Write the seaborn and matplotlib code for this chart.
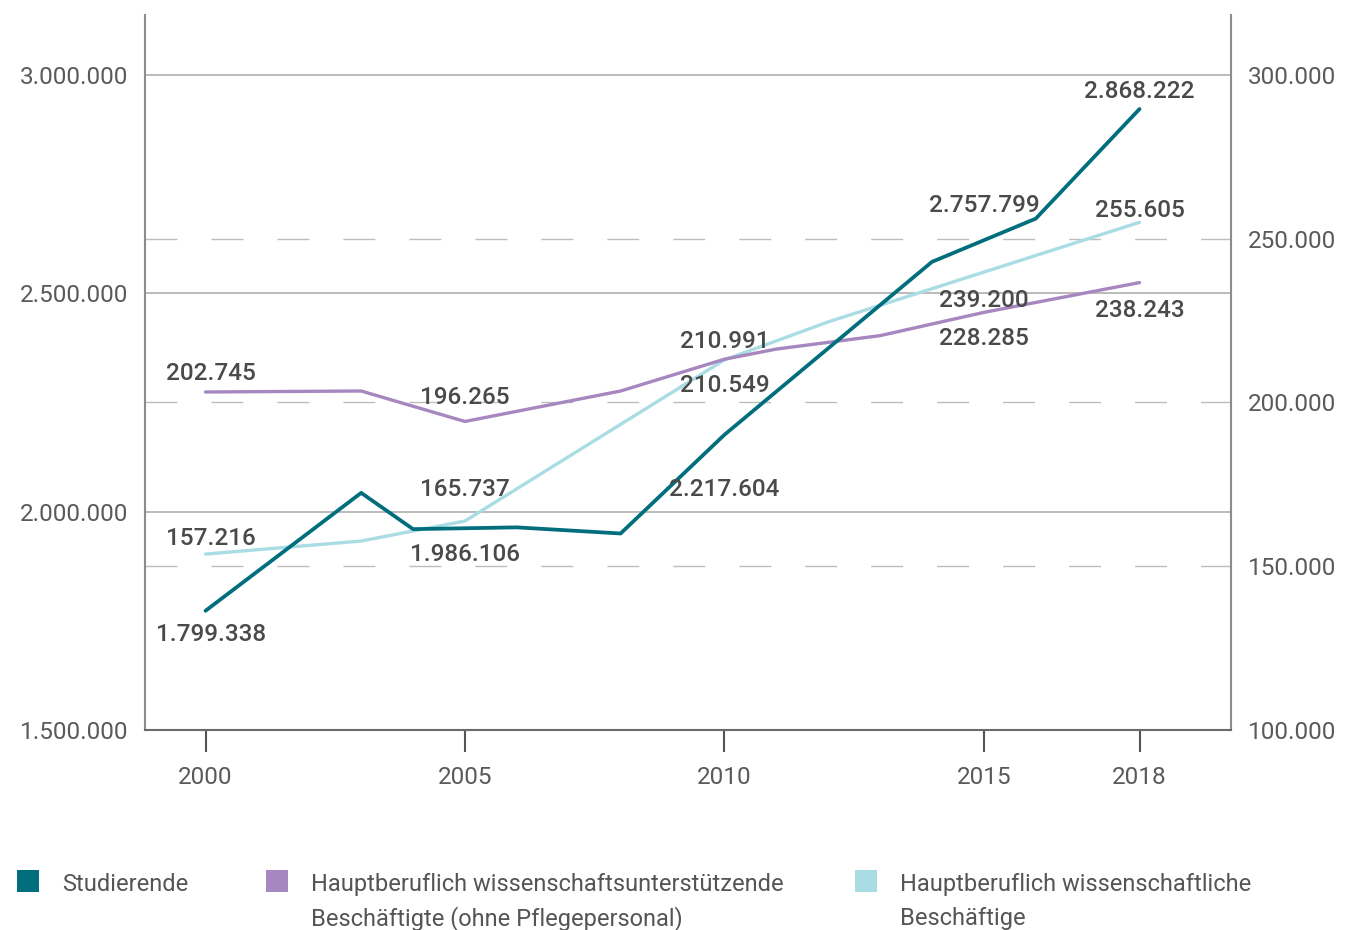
import matplotlib
matplotlib.use("Agg")
import matplotlib.pyplot as plt
import seaborn as sns
import pandas as pd
from matplotlib.patches import Rectangle
from matplotlib.ticker import FuncFormatter

# ---------------- data ----------------
stud_years = [2000, 2003, 2004, 2006, 2008, 2010, 2014, 2016, 2018]
stud_values = [1773000, 2043000, 1960000, 1964000, 1950000, 2176000, 2572000, 2671000, 2922000]

wu_years = [2000, 2003, 2005, 2008, 2010, 2011, 2013, 2015, 2018]
wu_values = [203200, 203500, 194200, 203500, 213200, 216300, 220400, 227500, 236600]

wiss_years = [2000, 2003, 2005, 2010, 2012, 2018]
wiss_values = [153700, 157700, 163800, 213000, 224600, 255000]

x_ticks = [2000, 2005, 2010, 2015, 2018]
left_ticks = [1500000, 2000000, 2500000, 3000000]
right_ticks = [100000, 150000, 200000, 250000, 300000]

legend_names = ["Studierende",
                "Hauptberuflich wissenschaftsunterstützende\nBeschäftigte (ohne Pflegepersonal)",
                "Hauptberuflich wissenschaftliche\nBeschäftige"]

stud_labels = [("1.799.338", 2000.1, 1702700), ("1.986.106", 2005, 1888100),
               ("2.217.604", 2010, 2034700), ("2.757.799", 2015, 2687000),
               ("2.868.222", 2018, 2948000)]
right_labels = [("202.745", 2000.1, 207000), ("157.216", 2000.1, 156600),
                ("196.265", 2005, 199450), ("165.737", 2005, 171300),
                ("210.991", 2010, 216500), ("210.549", 2010, 203050),
                ("239.200", 2015, 229300), ("228.285", 2015, 217400),
                ("255.605", 2018, 256500), ("238.243", 2018, 225950)]

# ---------------- style ----------------
C_STUD = "#006E7D"
C_WU = "#A687C0"
C_WISS = "#A9DDE3"
TXT = "#4a4a4a"
TICK = "#5a5a5a"

sns.set_theme(style="white")
plt.rcParams["font.family"] = ["Roboto", "DejaVu Sans"]
plt.rcParams["lines.scale_dashes"] = False

fig = plt.figure(figsize=(13.45, 9.3), dpi=100)
W, H = 1345, 930
ax = fig.add_axes([145 / W, (H - 730) / H, (1231 - 145) / W, (730 - 15) / H])
ax2 = ax.twinx()
ax.set_zorder(3)
ax2.set_zorder(2)
ax.patch.set_visible(False)

fmt = FuncFormatter(lambda v, p: f"{int(round(v)):,}".replace(",", "."))

# lines
df_wiss = pd.DataFrame({"Jahr": wiss_years, "Wert": wiss_values})
df_wu = pd.DataFrame({"Jahr": wu_years, "Wert": wu_values})
df_stud = pd.DataFrame({"Jahr": stud_years, "Wert": stud_values})
sns.lineplot(data=df_wiss, x="Jahr", y="Wert", ax=ax2, color=C_WISS, linewidth=2.4, zorder=3)
sns.lineplot(data=df_wu, x="Jahr", y="Wert", ax=ax2, color=C_WU, linewidth=2.4, zorder=3)
sns.lineplot(data=df_stud, x="Jahr", y="Wert", ax=ax, color=C_STUD, linewidth=2.7, zorder=3)

# limits
ax.set_xlim(1998.834, 2019.763)
ax.set_ylim(1500000, 3137300)
ax2.set_ylim(100000, 318300)

# grid lines (drawn below the data lines)
for v in left_ticks[1:]:
    ax2.plot([0, 1], [v, v], transform=ax.get_yaxis_transform(), color="#a8a8a8",
             lw=1.1, zorder=0.5, solid_capstyle="butt")
for v in right_ticks[1:-1]:
    ax2.axhline(v, color="#bdbdbd", lw=1.0, zorder=0.4, linestyle=(0, (23, 24.5)))

# ticks
ax.set_xticks(x_ticks)
ax.set_yticks(left_ticks)
ax2.set_yticks(right_ticks)
ax.yaxis.set_major_formatter(fmt)
ax2.yaxis.set_major_formatter(fmt)
ax.tick_params(axis="x", length=16, width=1.5, color="#555555", direction="out",
               pad=10, labelsize=17.5, labelcolor=TICK, bottom=True)
ax.tick_params(axis="y", length=0, pad=12, labelsize=17.5, labelcolor=TICK)
ax2.tick_params(axis="y", length=0, pad=12, labelsize=17.5, labelcolor=TICK)
ax.set_xlabel("")
ax.set_ylabel("")
ax2.set_xlabel("")
ax2.set_ylabel("")
ax.grid(False)
ax2.grid(False)

# spines
for s in ["top", "right"]:
    ax.spines[s].set_visible(False)
for s in ["top", "left", "bottom"]:
    ax2.spines[s].set_visible(False)
ax.spines["left"].set_color("#8c8c8c")
ax.spines["left"].set_linewidth(1.5)
ax.spines["bottom"].set_color("#6a6a6a")
ax.spines["bottom"].set_linewidth(1.5)
ax2.spines["right"].set_color("#8c8c8c")
ax2.spines["right"].set_linewidth(1.5)

# value labels
for t, x, y in stud_labels:
    ax.text(x, y, t, ha="center", va="baseline", fontsize=17.5, color=TXT,
            fontweight="medium", zorder=5)
for t, x, y in right_labels:
    ax2.text(x, y, t, ha="center", va="baseline", fontsize=17.5, color=TXT,
             fontweight="medium", zorder=5)

# legend (manual, square aligned with first line)
leg_colors = [C_STUD, C_WU, C_WISS]
leg_x = [17, 266, 855]
for name, col, x0 in zip(legend_names, leg_colors, leg_x):
    fig.add_artist(Rectangle((x0 / W, (H - 892) / H), 22 / W, 22 / H,
                             transform=fig.transFigure, color=col, lw=0))
    for i, line in enumerate(name.split("\n")):
        fig.text((x0 + 45) / W, (H - 891 - 34 * i) / H, line, ha="left",
                 va="baseline", fontsize=17.0, color="#555555", fontweight="normal")

fig.savefig("out.png", dpi=100)
